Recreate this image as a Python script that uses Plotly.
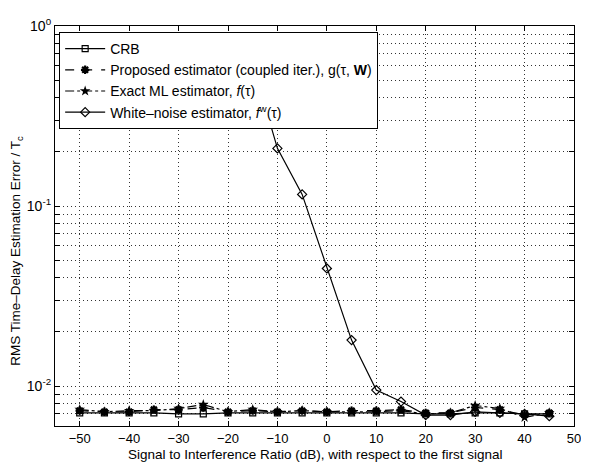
import math
import plotly.graph_objects as go

sir_db = [-50, -45, -40, -35, -30, -25, -20, -15, -10, -5, 0, 5, 10, 15, 20, 25, 30, 35, 40, 45]

crb = [0.0071, 0.0071, 0.0071, 0.0071, 0.0070, 0.0070, 0.0071, 0.0071, 0.0071, 0.0071,
       0.0071, 0.0071, 0.0071, 0.0071, 0.0070, 0.0070, 0.0071, 0.0071, 0.0070, 0.0070]
proposed = [0.0073, 0.0072, 0.0072, 0.0074, 0.0074, 0.0076, 0.0072, 0.0073, 0.0072, 0.0073,
            0.0072, 0.0073, 0.0073, 0.0074, 0.0071, 0.0071, 0.0076, 0.0074, 0.0069, 0.0071]
exact_ml = [0.0074, 0.0072, 0.0073, 0.0073, 0.0075, 0.0079, 0.0072, 0.0074, 0.0072, 0.0073,
            0.0072, 0.0072, 0.0072, 0.0073, 0.0070, 0.0071, 0.0078, 0.0075, 0.0067, 0.0071]
white_noise = [None, None, None, None, None, None, None, 0.62, 0.209, 0.116,
               0.045, 0.018, 0.0095, 0.0082, 0.0069, 0.0069, 0.0072, 0.0071, 0.0070, 0.0068]

names = [
    "CRB",
    "Proposed estimator (coupled iter.), g(\u03c4, <b>W</b>)",
    "Exact ML estimator, <i>f</i>(\u03c4)",
    "White\u2013noise estimator, <i>f</i><sup>w</sup>(\u03c4)",
]

x_ticks = [-50, -40, -30, -20, -10, 0, 10, 20, 30, 40, 50]
y_decades = [0.01, 0.1, 1]
y_decade_labels = ["10<sup>-2</sup>", "10<sup>-1</sup>", "10<sup>0</sup>"]
x_title = "Signal to Interference Ratio (dB), with respect to the first signal"
y_title = "RMS Time\u2013Delay Estimation Error / T<sub>c</sub>"

FONT = "Liberation Sans, Arial, Helvetica, sans-serif"

fig = go.Figure()
fig.add_trace(go.Scatter(x=sir_db, y=crb, name=names[0], mode="lines+markers",
                         line=dict(color="black", width=1.2),
                         marker=dict(symbol="square-open", size=6, color="black", line=dict(width=1.2))))
fig.add_trace(go.Scatter(x=sir_db, y=proposed, name=names[1], mode="lines+markers",
                         line=dict(color="black", width=1.2, dash="dash"),
                         marker=dict(symbol="asterisk-open", size=7, color="black", line=dict(width=2.2, color="black"))))
fig.add_trace(go.Scatter(x=sir_db, y=exact_ml, name=names[2], mode="lines+markers",
                         line=dict(color="black", width=1.2, dash="dashdot"),
                         marker=dict(symbol="star", size=8, color="black")))
fig.add_trace(go.Scatter(x=sir_db, y=white_noise, name=names[3], mode="lines+markers",
                         line=dict(color="black", width=1.2),
                         marker=dict(symbol="diamond-open", size=7, color="black", line=dict(width=1.2)),
                         connectgaps=False))

# log grid values (2..9 of each decade)
y_grid = []
y_text = []
for d in [0.001, 0.01, 0.1]:
    for k in range(1, 10):
        y_grid.append(round(d * k, 6))
        y_text.append("")
y_grid.append(1)
y_text.append("")
for i, v in enumerate(y_grid):
    if v in y_decades:
        y_text[i] = y_decade_labels[y_decades.index(v)]

# page body has an 8px margin: figure is offset by (8, 8) in the window
PLOT_H = 454 - 8 - 36
fig.update_layout(
    width=581, height=454,
    margin=dict(l=47, r=9, t=8, b=36),
    paper_bgcolor="white", plot_bgcolor="white",
    font=dict(family=FONT, size=14, color="black"),
    showlegend=True,
    legend=dict(x=0.008, y=0.985, xanchor="left", yanchor="top",
                bgcolor="white", bordercolor="black", borderwidth=1,
                font=dict(family=FONT, size=14, color="black"),
                tracegroupgap=0, itemwidth=40),
    xaxis=dict(range=[-55, 50], tickvals=x_ticks, ticks="inside", ticklen=5,
               tickcolor="black", showline=True, linecolor="black", linewidth=1.2,
               mirror="ticks", showgrid=True, gridcolor="#333", griddash="1px,3px", gridwidth=1,
               zeroline=False, tickfont=dict(size=13), ticklabeloverflow="allow"),
    yaxis=dict(type="log", range=[math.log10(0.006), 0], tickvals=y_grid, ticktext=y_text,
               ticks="inside", ticklen=5, tickcolor="black",
               showline=True, linecolor="black", linewidth=1.2, mirror="ticks",
               showgrid=True, gridcolor="#333", griddash="1px,3px", gridwidth=1,
               zeroline=False, tickfont=dict(size=14), ticklabeloverflow="allow"),
    annotations=[
        dict(text=x_title, xref="paper", yref="paper", x=0.5, y=(426 - 455) / PLOT_H,
             xanchor="center", yanchor="middle", showarrow=False, font=dict(size=13.5)),
        dict(text=y_title, xref="paper", yref="paper", x=(16 - 55) / 525, y=(426 - 246) / PLOT_H,
             xanchor="center", yanchor="middle", showarrow=False, textangle=-90, font=dict(size=13.5)),
    ],
)

fig.write_html("out.html")
